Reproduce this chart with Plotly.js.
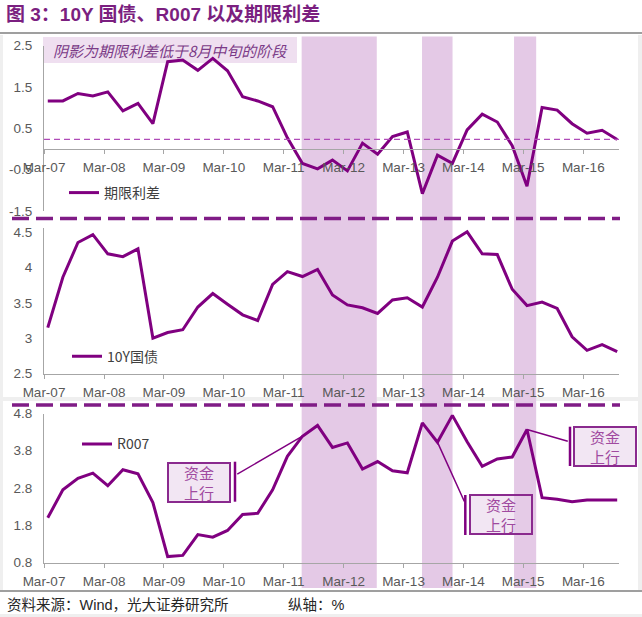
<!DOCTYPE html>
<html>
<head>
<meta charset="utf-8">
<script src="https://cdn.plot.ly/plotly-3.0.1.min.js"></script>
<style>body{margin:0;background:#fff}</style>
</head>
<body>
<div id="chart" style="width:642px;height:617px"></div>
<script>
// quarterly observations, Mar-07 .. Sep-16
var quarters = ["2007-03","2007-06","2007-09","2007-12","2008-03","2008-06","2008-09","2008-12",
  "2009-03","2009-06","2009-09","2009-12","2010-03","2010-06","2010-09","2010-12",
  "2011-03","2011-06","2011-09","2011-12","2012-03","2012-06","2012-09","2012-12",
  "2013-03","2013-06","2013-09","2013-12","2014-03","2014-06","2014-09","2014-12",
  "2015-03","2015-06","2015-09","2015-12","2016-03","2016-06","2016-09"];

var spread = [1.16,1.16,1.34,1.28,1.38,0.92,1.10,0.61,2.11,2.15,1.90,2.19,1.89,1.26,1.16,1.02,
  0.27,-0.35,-0.48,-0.27,-0.53,0.14,-0.13,0.30,0.41,-1.08,-0.15,-0.35,0.46,0.84,0.65,0.08,
  -0.90,1.00,0.94,0.61,0.38,0.45,0.23];

var cgb10y = [3.15,3.86,4.35,4.46,4.19,4.15,4.26,3.00,3.08,3.12,3.44,3.63,3.48,3.33,3.25,3.76,
  3.94,3.87,3.97,3.61,3.47,3.43,3.35,3.54,3.57,3.44,3.86,4.37,4.50,4.19,4.18,3.69,
  3.46,3.51,3.42,3.02,2.83,2.91,2.81];

var r007 = [2.00,2.75,3.06,3.20,2.86,3.29,3.18,2.41,0.96,0.99,1.55,1.48,1.66,2.09,2.12,2.75,
  3.65,4.19,4.48,3.89,4.01,3.31,3.51,3.26,3.21,4.55,4.03,4.75,4.04,3.38,3.58,3.63,
  4.37,2.54,2.50,2.43,2.48,2.48,2.48];

var spreadRef = 0.23;   // 8月中旬的期限利差
var shadeStart = ["2011-06-19","2013-06-22","2015-01-04"];
var shadeEnd   = ["2012-09-19","2013-12-25","2015-05-19"];
var calloutIdx = [17, 26, 32];

var names = ["期限利差","10Y国债","R007"];
var yTicks1 = [2.5,1.5,0.5,-0.5,-1.5], yText1 = ["2.5","1.5","0.5","-0.5","-1.5"];
var yTicks2 = [4.5,4,3.5,3,2.5],       yText2 = ["4.5","4","3.5","3","2.5"];
var yTicks3 = [4.8,3.8,2.8,1.8,0.8],   yText3 = ["4.8","3.8","2.8","1.8","0.8"];

var dates = quarters.map(function(q){ return q + "-24"; });

var W = 642, H = 617;
function px(x){ return x / W; }
function py(y){ return 1 - y / H; }

var purple = "#800080";
var grey = "#a6a6a6";
var sans = "Liberation Sans, Arial, Noto Sans CJK SC";
var cjk = "Noto Sans CJK SC, Liberation Sans";

var dom1 = [py(211), py(45.5)];
var dom2 = [py(373.7), py(228.3)];
var dom3 = [py(562.5), py(413.5)];
var range1 = [-1.5, 2.5];
var zeroPos = dom1[0] + (0 - range1[0]) / (range1[1] - range1[0]) * (dom1[1] - dom1[0]);

function xAxis(extra){
  var a = {
    domain: [px(44), px(619)], range: ["2007-03-01","2016-10-05"], type: "date",
    tickformat: "%b-%y", dtick: "M12", tick0: "2007-03-01",
    showline: true, linecolor: grey, linewidth: 1,
    ticks: "outside", ticklen: 4, tickcolor: grey,
    showgrid: false, zeroline: false, ticklabelstandoff: 2,
    tickfont: {family: sans, size: 13.5, color: "#595959"}, fixedrange: true
  };
  for (var k in extra) a[k] = extra[k];
  return a;
}
function yAxis(extra){
  var a = {
    showline: true, linecolor: grey, linewidth: 1, ticks: "",
    showgrid: false, zeroline: false, ticklabelstandoff: 8,
    tickfont: {family: sans, size: 13.5, color: "#595959"}, fixedrange: true
  };
  for (var k in extra) a[k] = extra[k];
  return a;
}

var data = [
  {x: dates, y: spread, xaxis: "x", yaxis: "y", type: "scatter", mode: "lines",
   name: names[0], legend: "legend", line: {color: purple, width: 3}},
  {x: dates, y: cgb10y, xaxis: "x2", yaxis: "y2", type: "scatter", mode: "lines",
   name: names[1], legend: "legend2", line: {color: purple, width: 3}},
  {x: dates, y: r007, xaxis: "x3", yaxis: "y3", type: "scatter", mode: "lines",
   name: names[2], legend: "legend3", line: {color: purple, width: 3}}
];

var shapes = [
  {type: "line", xref: "paper", yref: "paper", x0: 0, x1: 1, y0: py(33), y1: py(33),
   line: {color: "#7f7f7f", width: 1.5}},
  {type: "line", xref: "paper", yref: "paper", x0: 0, x1: 1, y0: py(591), y1: py(591),
   line: {color: "#7f7f7f", width: 1.5}},
  {type: "rect", xref: "paper", yref: "paper", x0: 0, x1: px(3), y0: py(590), y1: py(35),
   fillcolor: "#efefef", line: {width: 0}, layer: "below"},
  {type: "rect", xref: "paper", yref: "paper", x0: px(638), x1: 1, y0: py(590), y1: py(35),
   fillcolor: "#efefef", line: {width: 0}, layer: "below"},
  {type: "rect", xref: "paper", yref: "paper", x0: 0, x1: 1, y0: py(401), y1: py(397),
   fillcolor: "#efefef", line: {width: 0}, layer: "below"},
  {type: "rect", xref: "paper", yref: "paper", x0: 0, x1: 1, y0: 0, y1: py(614),
   fillcolor: "#efefef", line: {width: 0}, layer: "below"},
  // note box
  {type: "rect", xref: "paper", yref: "paper", x0: px(43), x1: px(297), y0: py(63), y1: py(37),
   fillcolor: "#efdff0", line: {width: 0}, layer: "below"},
  // threshold
  {type: "line", xref: "x domain", yref: "y", x0: 0, x1: 1, y0: spreadRef, y1: spreadRef,
   line: {color: "#b04bb8", width: 1.2, dash: "6px,4px"}},
  // separators
  {type: "line", xref: "paper", yref: "paper", x0: px(12), x1: px(620), y0: py(218.5), y1: py(218.5),
   line: {color: "#801c86", width: 3.5, dash: "17px,7px"}},
  {type: "line", xref: "paper", yref: "paper", x0: px(12), x1: px(620), y0: py(405), y1: py(405),
   line: {color: "#801c86", width: 3.5, dash: "17px,7px"}},
  // callout accent bars
  {type: "line", xref: "paper", yref: "paper", x0: px(235), x1: px(235), y0: py(461.7), y1: py(501.7),
   line: {color: purple, width: 2.5}},
  {type: "line", xref: "paper", yref: "paper", x0: px(465.3), x1: px(465.3), y0: py(495), y1: py(535),
   line: {color: purple, width: 2.5}},
  {type: "line", xref: "paper", yref: "paper", x0: px(570), x1: px(570), y0: py(426.7), y1: py(466),
   line: {color: purple, width: 2.5}}
];

for (var i = 0; i < shadeStart.length; i++){
  shapes.push({type: "rect", xref: "x", yref: "paper", x0: shadeStart[i], x1: shadeEnd[i],
    y0: py(588), y1: py(36.5), fillcolor: "#e4c9e6", line: {width: 0}, layer: "below"});
}

var boxStyle = {
  text: "资金<br>上行", showarrow: false, xref: "paper", yref: "paper",
  xanchor: "left", yanchor: "top", width: 60, height: 37, borderpad: 0,
  bordercolor: "#8a2a8e", borderwidth: 2, bgcolor: "rgba(230,205,232,0.5)",
  font: {family: cjk, size: 15, color: "#a04aa0"}
};
function box(x, y){
  var b = {}; for (var k in boxStyle) b[k] = boxStyle[k];
  b.x = px(x); b.y = py(y); return b;
}
function pointer(idx, ax, ay){
  return {x: dates[idx], y: r007[idx], xref: "x3", yref: "y3", text: "",
    showarrow: true, arrowhead: 0, arrowwidth: 1.5, arrowcolor: purple,
    axref: "pixel", ayref: "pixel", ax: ax, ay: ay};
}

var annotations = [
  {text: "<b>图 3：10Y 国债、R007 以及期限利差</b>", xref: "paper", yref: "paper",
   x: px(4), y: py(14.5), xanchor: "left", yanchor: "middle", showarrow: false,
   font: {family: sans, size: 19, color: "#7b1f80"}},
  {text: "阴影为期限利差低于8月中旬的阶段", xref: "paper", yref: "paper",
   x: px(51), y: py(50), xanchor: "left", yanchor: "middle", showarrow: false,
   font: {family: cjk, size: 15, color: "#7b3b87", style: "italic"}},
  box(166.7, 461.7), box(469.3, 494), box(573.3, 426),
  pointer(calloutIdx[0], -66.7, 38.8),
  pointer(calloutIdx[1], 27.6, 60.8),
  pointer(calloutIdx[2], 42.3, 12.2),
  {text: "资料来源：Wind，光大证券研究所", xref: "paper", yref: "paper",
   x: px(5), y: py(605), xanchor: "left", yanchor: "middle", showarrow: false,
   font: {family: sans, size: 14.5, color: "#262626"}},
  {text: "纵轴：%", xref: "paper", yref: "paper",
   x: px(286), y: py(605), xanchor: "left", yanchor: "middle", showarrow: false,
   font: {family: sans, size: 14.5, color: "#262626"}}
];

function legendAt(x, y){
  return {x: px(x), y: py(y), xref: "paper", yref: "paper", xanchor: "left", yanchor: "middle",
    bgcolor: "rgba(0,0,0,0)", borderwidth: 0, itemwidth: 30,
    font: {family: cjk, size: 14, color: "#404040"}};
}

var layout = {
  width: W, height: H, autosize: false,
  margin: {l: 0, r: 0, t: 0, b: 0},
  paper_bgcolor: "#ffffff", plot_bgcolor: "rgba(0,0,0,0)",
  showlegend: true,
  xaxis: xAxis({anchor: "free", position: zeroPos}),
  yaxis: yAxis({domain: dom1, range: range1, tickvals: yTicks1, ticktext: yText1, anchor: "x"}),
  xaxis2: xAxis({anchor: "y2", matches: "x"}),
  yaxis2: yAxis({domain: dom2, range: [2.5, 4.55], tickvals: yTicks2, ticktext: yText2, anchor: "x2"}),
  xaxis3: xAxis({anchor: "y3", matches: "x"}),
  yaxis3: yAxis({domain: dom3, range: [0.8, 4.8], tickvals: yTicks3, ticktext: yText3, anchor: "x3"}),
  legend: legendAt(64, 193),
  legend2: legendAt(67, 356.7),
  legend3: legendAt(77, 444.3),
  shapes: shapes,
  annotations: annotations
};

Plotly.newPlot("chart", data, layout, {displayModeBar: false, staticPlot: true});
</script>
</body>
</html>
